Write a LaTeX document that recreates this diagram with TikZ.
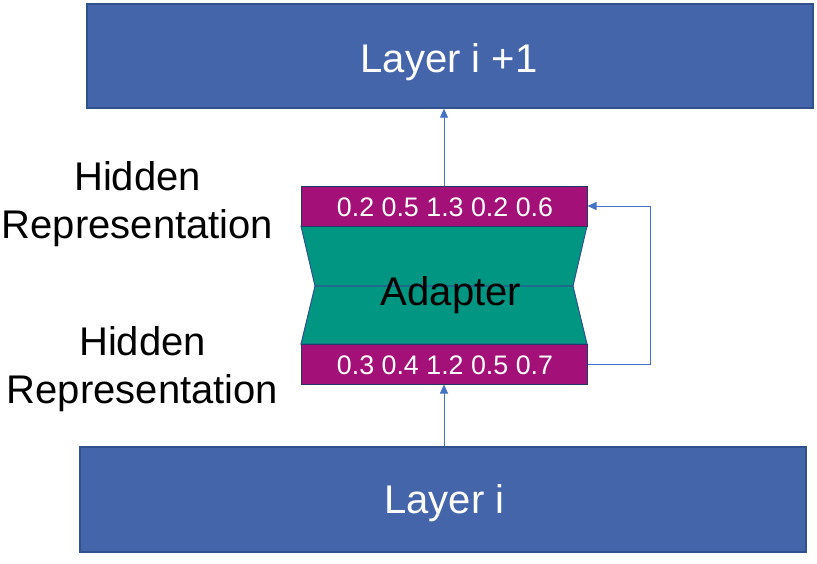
\documentclass[tikz,border=0pt]{standalone}
\usepackage{fontspec}
\setmainfont{Liberation Sans}
\usetikzlibrary{arrows.meta}
\definecolor{layerblue}{RGB}{69,101,171}
\definecolor{layeredge}{RGB}{47,82,143}
\definecolor{hidpurple}{RGB}{162,16,120}
\definecolor{adapteal}{RGB}{0,150,130}
\definecolor{connblue}{RGB}{68,114,196}
\tikzset{
  layerbox/.style={draw=layeredge, fill=layerblue, line width=1.4pt, minimum width=726pt, minimum height=104pt, inner sep=0pt},
  ltext/.style={text=white, font=\fontsize{40}{48}\selectfont, inner sep=0pt},
  hidbox/.style={draw=layeredge!70!black, fill=hidpurple, line width=1pt, minimum width=286pt, minimum height=40pt, inner sep=0pt},
  numtext/.style={text=white, font=\fontsize{26.8}{32}\selectfont, inner sep=0pt},
  adapshape/.style={draw=layeredge, fill=adapteal, line width=1pt},
  labtext/.style={font=\fontsize{40}{48}\selectfont, align=center, inner sep=0pt},
  conn/.style={draw=connblue, line width=0.9pt},
  arr/.style={conn, -{Triangle[length=9pt,width=8pt]}}
}
\begin{document}
\begin{tikzpicture}[x=1pt,y=-1pt]
\useasboundingbox (0,0) rectangle (817,563);
% layers
\node[layerbox] (top) at (450,56) {};
\node[ltext, anchor=base] (toptext) at (449,72) {Layer i +1};
\node[layerbox, minimum height=105pt] (bot) at (443,499.5) {};
\node[ltext, anchor=base] (bottext) at (444.5,513.5) {Layer i};
% adapter
\coordinate (a1) at (301,226);
\coordinate (a2) at (587,226);
\coordinate (a3) at (573,286);
\coordinate (a4) at (315,286);
\coordinate (a5) at (587,344);
\coordinate (a6) at (301,344);
\path[adapshape] (a1) -- (a2) -- (a3) -- (a4) -- cycle;
\path[adapshape] (a4) -- (a3) -- (a5) -- (a6) -- cycle;
\node[font=\fontsize{40}{48}\selectfont, inner sep=0pt, anchor=base] (adtext) at (451,305) {Adapter};
% hidden representations
\node[hidbox] (ht) at (444,206) {};
\node[numtext, anchor=base] (htn) at (445,216) {0.2 0.5 1.3 0.2 0.6};
\node[hidbox] (hb) at (444,364) {};
\node[numtext, anchor=base] (hbn) at (445,374) {0.3 0.4 1.2 0.5 0.7};
% labels
\node[labtext] (lab1) at (137.5,204.5) {Hidden\\Representation};
\node[labtext] (lab2) at (142.5,369) {Hidden\\Representation};
% connectors
\draw[arr] (bot.north -| hb.south) -- (hb.south);
\draw[arr] (ht.north) -- (ht.north |- top.south);
\draw[arr] (hb.east) -- ++(63,0) |- (ht.east);
\end{tikzpicture}
\end{document}
